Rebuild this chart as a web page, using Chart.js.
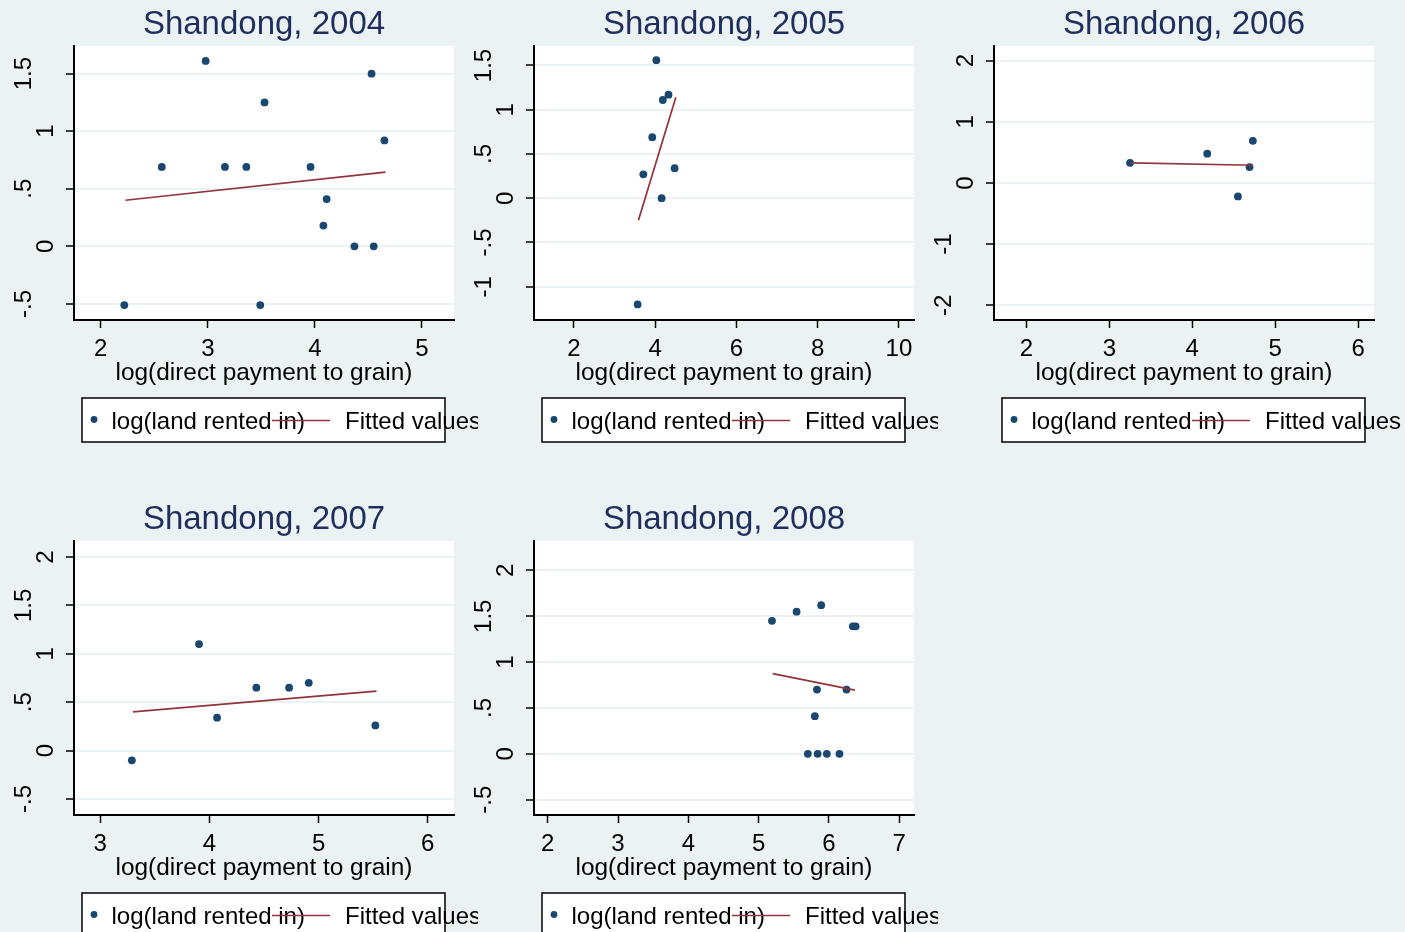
<!DOCTYPE html>
<html>
<head>
<meta charset="utf-8">
<script src="https://cdn.jsdelivr.net/npm/chart.js@4.4.1/dist/chart.umd.min.js"></script>
<style>
  html, body { margin: 0; padding: 0; background: #eaf2f3; width: 1405px; height: 932px; overflow: hidden; }
  canvas { position: absolute; }
</style>
</head>
<body>
<canvas id="c2004" style="left:0;top:0" width="478" height="495"></canvas>
<canvas id="c2005" style="left:460px;top:0" width="478" height="495"></canvas>
<canvas id="c2006" style="left:920px;top:0" width="485" height="495"></canvas>
<canvas id="c2007" style="left:0;top:495px" width="478" height="437"></canvas>
<canvas id="c2008" style="left:460px;top:495px" width="478" height="437"></canvas>
<script>
// series labels + axis title
const seriesLabels = ['log(land rented in)', 'Fitted values'];
const xTitle = 'log(direct payment to grain)';

// 2004
const pay2004  = [2.22, 2.57, 2.98, 3.16, 3.36, 3.49, 3.53, 3.96, 4.08, 4.11, 4.37, 4.53, 4.55, 4.65];
const rent2004 = [-0.51, 0.69, 1.61, 0.69, 0.69, -0.51, 1.25, 0.69, 0.18, 0.41, 0, 1.5, 0, 0.92];
const fitX2004 = [2.23, 4.66];
const fitY2004 = [0.40, 0.645];
const xTicks2004 = [2, 3, 4, 5];
const yTicks2004 = [-0.5, 0, 0.5, 1, 1.5];
const yLabels2004 = ['-.5', '0', '.5', '1', '1.5'];
const xRange2004 = [1.75, 5.3];
const yRange2004 = [-0.64, 1.74];

// 2005
const pay2005  = [3.57, 3.71, 3.93, 4.03, 4.16, 4.19, 4.33, 4.48];
const rent2005 = [-1.2, 0.27, 0.69, 1.56, 0, 1.11, 1.17, 0.34];
const fitX2005 = [3.59, 4.51];
const fitY2005 = [-0.25, 1.14];
const xTicks2005 = [2, 4, 6, 8, 10];
const yTicks2005 = [-1, -0.5, 0, 0.5, 1, 1.5];
const yLabels2005 = ['-1', '-.5', '0', '.5', '1', '1.5'];
const xRange2005 = [1.02, 10.37];
const yRange2005 = [-1.376, 1.72];

// 2006
const pay2006  = [3.25, 4.18, 4.55, 4.69, 4.73];
const rent2006 = [0.33, 0.48, -0.22, 0.26, 0.69];
const fitX2006 = [3.26, 4.73];
const fitY2006 = [0.33, 0.29];
const xTicks2006 = [2, 3, 4, 5, 6];
const yTicks2006 = [-2, -1, 0, 1, 2];
const yLabels2006 = ['-2', '-1', '0', '1', '2'];
const xRange2006 = [1.61, 6.19];
const yRange2006 = [-2.24, 2.24];

// 2007
const pay2007  = [3.29, 3.905, 4.07, 4.43, 4.73, 4.91, 5.52];
const rent2007 = [-0.1, 1.1, 0.34, 0.65, 0.65, 0.7, 0.26];
const fitX2007 = [3.30, 5.53];
const fitY2007 = [0.40, 0.615];
const xTicks2007 = [3, 4, 5, 6];
const yTicks2007 = [-0.5, 0, 0.5, 1, 1.5, 2];
const yLabels2007 = ['-.5', '0', '.5', '1', '1.5', '2'];
const xRange2007 = [2.76, 6.24];
const yRange2007 = [-0.665, 2.165];

// 2008
const pay2008  = [5.19, 5.54, 5.70, 5.80, 5.83, 5.84, 5.89, 5.97, 6.15, 6.25, 6.34, 6.38];
const rent2008 = [1.45, 1.55, 0, 0.41, 0.7, 0, 1.62, 0, 0, 0.7, 1.39, 1.39];
const fitX2008 = [5.20, 6.37];
const fitY2008 = [0.875, 0.695];
const xTicks2008 = [2, 3, 4, 5, 6, 7];
const yTicks2008 = [-0.5, 0, 0.5, 1, 1.5, 2];
const yLabels2008 = ['-.5', '0', '.5', '1', '1.5', '2'];
const xRange2008 = [1.805, 7.21];
const yRange2008 = [-0.667, 2.32];

const FONT = '"Liberation Sans", Arial, sans-serif';
const NAVY = '#1a476f';
const MAROON = '#90353b';
const TITLE_COL = '#1f2e5c';

const panelPlugin = {
  id: 'panel',
  beforeDraw(chart) {
    const { ctx, chartArea: a } = chart;
    ctx.save();
    ctx.fillStyle = '#fff';
    ctx.fillRect(a.left, a.top, a.right - a.left, a.bottom - a.top);
    ctx.restore();
  },
  afterDraw(chart, args, opts) {
    const { ctx, chartArea: a } = chart;
    const ys = chart.scales.y;
    const cx = (a.left + a.right) / 2;
    ctx.save();

    // title
    ctx.fillStyle = TITLE_COL;
    ctx.font = '33px ' + FONT;
    ctx.textAlign = 'center';
    ctx.textBaseline = 'alphabetic';
    ctx.fillText(opts.title, cx, 34);

    // x axis title
    ctx.fillStyle = '#000';
    ctx.font = '24.4px ' + FONT;
    ctx.fillText(xTitle, cx, a.bottom + 60);

    // rotated y tick labels (stata puts 1-char labels closer to the axis)
    ctx.font = '24px ' + FONT;
    ys.ticks.forEach((t, i) => {
      const lab = opts.yLabels[i];
      const off = lab.length === 1 ? 27.5 : 50;
      ctx.save();
      ctx.translate(a.left - off, ys.getPixelForValue(t.value));
      ctx.rotate(-Math.PI / 2);
      ctx.textAlign = 'center';
      ctx.textBaseline = 'middle';
      ctx.fillText(lab, 0, 0);
      ctx.restore();
    });

    // legend
    const ds = chart.data.datasets;
    const bl = a.left + 8, bt = a.bottom + 78;
    ctx.fillStyle = '#fff';
    ctx.fillRect(bl, bt, 363, 44);
    ctx.strokeStyle = '#000';
    ctx.lineWidth = 1.5;
    ctx.strokeRect(bl, bt, 363, 44);

    ctx.fillStyle = ds[0].pointBackgroundColor;
    ctx.beginPath();
    ctx.arc(a.left + 20, a.bottom + 99.5, 3.4, 0, Math.PI * 2);
    ctx.fill();

    ctx.fillStyle = '#000';
    ctx.font = '24px ' + FONT;
    ctx.textAlign = 'left';
    ctx.fillText(ds[0].label, a.left + 37.5, a.bottom + 109);

    ctx.strokeStyle = ds[1].borderColor;
    ctx.lineWidth = 1.6;
    ctx.beginPath();
    ctx.moveTo(a.left + 198, a.bottom + 100.5);
    ctx.lineTo(a.left + 256, a.bottom + 100.5);
    ctx.stroke();

    ctx.fillText(ds[1].label, a.left + 271, a.bottom + 109);
    ctx.restore();
  }
};

function toPoints(xs, ys) {
  return xs.map((x, i) => ({ x: x, y: ys[i] }));
}

function makePanel(id, title, pay, rent, fitX, fitY, xTicks, yTicks, yLabels, xRange, yRange) {
  const canvas = document.getElementById(id);
  const W = canvas.width, H = canvas.height;
  new Chart(canvas, {
    type: 'scatter',
    data: {
      datasets: [
        {
          label: seriesLabels[0],
          data: toPoints(pay, rent),
          pointRadius: 3.9,
          pointBackgroundColor: NAVY,
          pointBorderWidth: 0,
          order: 1
        },
        {
          label: seriesLabels[1],
          data: toPoints(fitX, fitY),
          showLine: true,
          borderColor: MAROON,
          borderWidth: 1.7,
          pointRadius: 0,
          order: 0
        }
      ]
    },
    options: {
      responsive: false,
      animation: false,
      events: [],
      layout: { padding: { top: 46, left: 0, right: W - 454, bottom: 0 } },
      plugins: {
        legend: { display: false },
        tooltip: { enabled: false },
        title: { display: false },
        panel: { title: title, yLabels: yLabels }
      },
      scales: {
        x: {
          type: 'linear',
          min: xRange[0],
          max: xRange[1],
          afterBuildTicks: s => { s.ticks = xTicks.map(v => ({ value: v })); },
          afterFit: s => { s.height = H - 320; s.paddingLeft = 0; s.paddingRight = 0; },
          ticks: { color: '#000', padding: 7, font: { family: FONT, size: 24 }, callback: v => String(v) },
          grid: { drawOnChartArea: false, drawTicks: true, tickLength: 8, tickColor: '#000', tickWidth: 1.5 },
          border: { display: true, color: '#000', width: 2 }
        },
        y: {
          type: 'linear',
          min: yRange[0],
          max: yRange[1],
          afterBuildTicks: s => { s.ticks = yTicks.map(v => ({ value: v })); },
          afterFit: s => { s.width = 74; s.paddingTop = 0; s.paddingBottom = 0; },
          ticks: { display: false },
          grid: { color: '#eaf2f3', lineWidth: 2, drawTicks: true, tickLength: 8, tickColor: '#000', tickWidth: 1.5 },
          border: { display: true, color: '#000', width: 2 }
        }
      }
    },
    plugins: [panelPlugin]
  });
}

makePanel('c2004', 'Shandong, 2004', pay2004, rent2004, fitX2004, fitY2004, xTicks2004, yTicks2004, yLabels2004, xRange2004, yRange2004);
makePanel('c2005', 'Shandong, 2005', pay2005, rent2005, fitX2005, fitY2005, xTicks2005, yTicks2005, yLabels2005, xRange2005, yRange2005);
makePanel('c2006', 'Shandong, 2006', pay2006, rent2006, fitX2006, fitY2006, xTicks2006, yTicks2006, yLabels2006, xRange2006, yRange2006);
makePanel('c2007', 'Shandong, 2007', pay2007, rent2007, fitX2007, fitY2007, xTicks2007, yTicks2007, yLabels2007, xRange2007, yRange2007);
makePanel('c2008', 'Shandong, 2008', pay2008, rent2008, fitX2008, fitY2008, xTicks2008, yTicks2008, yLabels2008, xRange2008, yRange2008);
</script>
</body>
</html>
